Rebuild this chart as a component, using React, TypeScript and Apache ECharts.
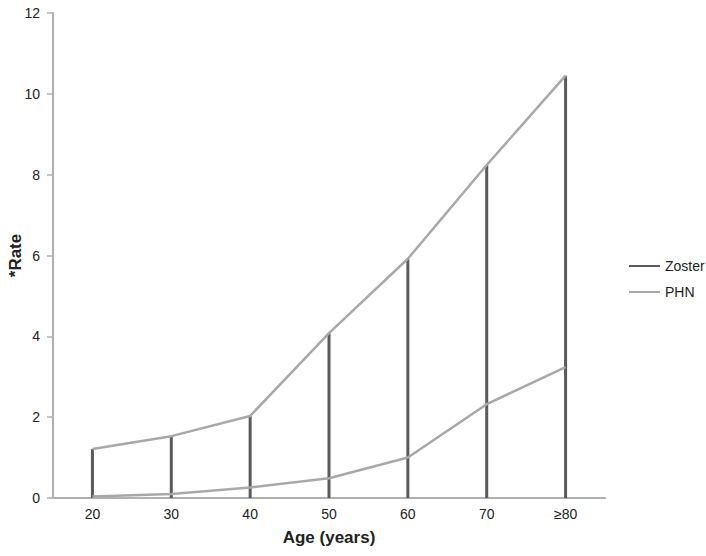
import React, { useEffect, useRef } from "react";
import * as echarts from "echarts";

const categories = ["20", "30", "40", "50", "60", "70", "≥80"];
const zosterValues = [1.21, 1.53, 2.03, 4.08, 5.92, 8.24, 10.45];
const phnValues = [0.04, 0.1, 0.26, 0.49, 1.0, 2.32, 3.24];
const yTicks = { min: 0, max: 12, interval: 2 };

const DARK = "#5a5a5a";
const LIGHT = "#a8a8a8";
const FONT = "Liberation Sans, Arial, sans-serif";

export default function App() {
  const ref = useRef<HTMLDivElement>(null);
  useEffect(() => {
    const chart = echarts.init(ref.current!, null, { renderer: "svg" });
    chart.setOption({
      animation: false,
      backgroundColor: "#ffffff",
      textStyle: { fontFamily: FONT },
      grid: { left: 53, right: 101, top: 13, bottom: 58, containLabel: false, outerBoundsMode: "none" },
      legend: {
        orient: "vertical",
        left: 624,
        top: 254,
        itemWidth: 31,
        itemHeight: 2,
        itemGap: 12,
        icon: "rect",
        data: [
          { name: "Zoster", itemStyle: { color: DARK } },
          { name: "PHN", itemStyle: { color: LIGHT } },
        ],
        textStyle: { fontSize: 14, color: "#222", fontFamily: FONT },
      },
      xAxis: {
        type: "category",
        data: categories,
        boundaryGap: true,
        name: "Age (years)",
        nameLocation: "middle",
        nameGap: 31,
        nameMoveOverlap: false,
        nameTextStyle: { fontSize: 17, fontWeight: "bold", color: "#222", fontFamily: FONT },
        axisLine: { lineStyle: { color: "#b0b0b0", width: 2 } },
        axisTick: { show: false },
        axisLabel: { fontSize: 14, color: "#222", margin: 9, fontFamily: FONT },
      },
      yAxis: {
        type: "value",
        min: yTicks.min,
        max: yTicks.max,
        interval: yTicks.interval,
        name: "*Rate",
        nameLocation: "middle",
        nameGap: 29,
        nameMoveOverlap: false,
        nameTextStyle: { fontSize: 17, fontWeight: "bold", color: "#222", fontFamily: FONT },
        axisLine: { show: true, lineStyle: { color: "#b0b0b0", width: 2 } },
        axisTick: { show: true, length: 6, lineStyle: { color: "#b0b0b0", width: 1.5 } },
        splitLine: { show: false },
        axisLabel: { fontSize: 14, color: "#222", margin: 13, fontFamily: FONT },
      },
      series: [
        {
          name: "Zoster",
          type: "bar",
          data: zosterValues,
          barWidth: 3,
          itemStyle: { color: DARK },
          z: 2,
        },
        {
          name: "ZosterTop",
          type: "line",
          data: zosterValues,
          symbol: "none",
          lineStyle: { color: LIGHT, width: 2.5 },
          z: 3,
        },
        {
          name: "PHN",
          type: "line",
          data: phnValues,
          symbol: "none",
          itemStyle: { color: LIGHT },
          lineStyle: { color: LIGHT, width: 2.5 },
          z: 3,
        },
      ],
    });
    return () => chart.dispose();
  }, []);
  return <div ref={ref} style={{ width: 706, height: 556, position: "absolute", left: 0, top: 0 }} />;
}
